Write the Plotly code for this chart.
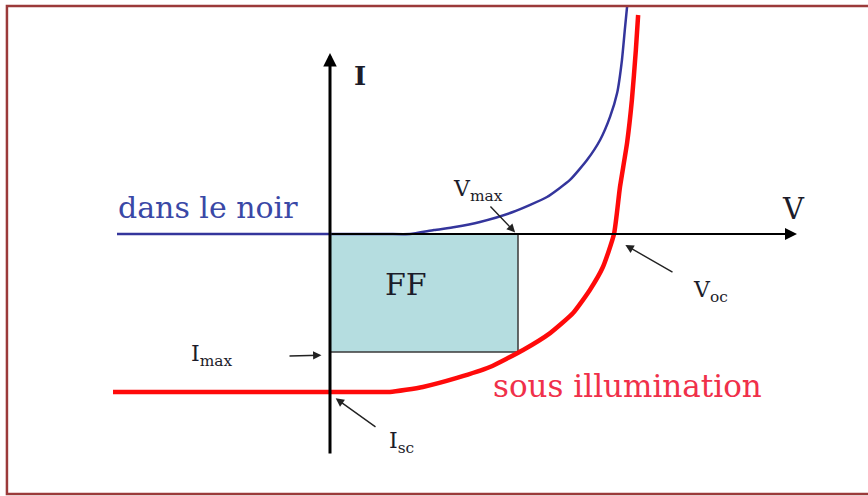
import plotly.graph_objects as go

# I-V characteristic of a solar cell (arbitrary units: Voc = 1, Isc = -1)
v_dark = [-0.75, 0.0, 0.20, 0.282, 0.366, 0.440, 0.528, 0.644, 0.764, 0.845, 0.905,
          0.951, 0.986, 1.011, 1.028, 1.039, 1.046]
i_dark = [0.0, 0.0, 0.0, 0.0, 0.025, 0.044, 0.076, 0.139, 0.234, 0.342, 0.468,
          0.595, 0.741, 0.892, 1.101, 1.310, 1.437]

v_light = [-0.764, 0.0, 0.141, 0.211, 0.327, 0.447, 0.563, 0.680, 0.775, 0.856, 0.915,
           0.961, 1.000, 1.021, 1.046, 1.063, 1.077, 1.085]
i_light = [-1.0, -1.0, -1.0, -1.0, -0.968, -0.911, -0.842, -0.734, -0.627, -0.500, -0.354,
           -0.209, 0.0, 0.297, 0.576, 0.848, 1.165, 1.386]

v_max = 0.662
i_max = -0.747
v_oc = 1.0
i_sc = -1.0

# pixel -> data helpers (only used to place labels and arrows)
def xv(px):
    return (px - 330) / 284.0

def yi(py):
    return (234 - py) / 158.0

fig = go.Figure()

# FF rectangle
fig.add_trace(go.Scatter(
    x=[0, v_max, v_max, 0, 0], y=[0, 0, i_max, i_max, 0],
    mode='lines', fill='toself', fillcolor='#b5dde0',
    line=dict(color='#3a3a3a', width=1.5), hoverinfo='skip'))

fig.add_trace(go.Scatter(
    x=v_dark, y=i_dark, mode='lines', line=dict(color='#34359c', width=2.5, shape='spline', smoothing=0.5),
    hoverinfo='skip'))
fig.add_trace(go.Scatter(
    x=v_light, y=i_light, mode='lines', line=dict(color='#ff0a0a', width=4.5, shape='spline', smoothing=0.5),
    hoverinfo='skip'))

ann = []


def arrow(x0, y0, x1, y1, width, size, color='black'):
    return dict(x=x1, y=y1, ax=x0, ay=y0, xref='x', yref='y', axref='x', ayref='y',
                text='', showarrow=True, arrowhead=2, arrowsize=size, arrowwidth=width,
                arrowcolor=color)


# axes
ann.append(arrow(0, yi(455), 0, yi(53), 3, 0.9))
ann.append(arrow(0, 0, xv(797), 0, 2, 1.2))

# pointer arrows
ann.append(arrow(xv(489), yi(205), v_max - 0.01, 0.01, 1.4, 1.2, '#222222'))
ann.append(arrow(xv(674), yi(273), v_oc + 0.04, -0.07, 1.4, 1.2, '#222222'))
ann.append(arrow(xv(288), yi(356), -0.03, i_max - 0.02, 1.4, 1.2, '#222222'))
ann.append(arrow(xv(377), yi(428), 0.02, i_sc - 0.04, 1.4, 1.2, '#222222'))

serif = 'DejaVu Serif'


def label(px, py, text, size, color='#1c1c2a'):
    return dict(x=xv(px), y=yi(py), xref='x', yref='y', text=text, showarrow=False,
                xanchor='center', yanchor='middle', font=dict(family=serif, size=size, color=color))


ann.append(label(360, 76, '<b>I</b>', 26))
ann.append(label(793, 209, 'V', 29))
ann.append(label(208, 207, 'dans le noir', 30, '#3a48a6'))
ann.append(label(627, 386, 'sous illumination', 31, '#f0304a'))
ann.append(label(406, 284, 'FF', 30))
ann.append(label(478, 190, 'V<sub>max</sub>', 22))
ann.append(label(710, 291, 'V<sub>oc</sub>', 22))
ann.append(label(211, 355, 'I<sub>max</sub>', 22))
ann.append(label(401, 442, 'I<sub>sc</sub>', 22))

fig.update_layout(
    width=868, height=496, autosize=False,
    margin=dict(l=0, r=0, t=0, b=0),
    paper_bgcolor='white', plot_bgcolor='white',
    showlegend=False,
    annotations=ann,
    shapes=[dict(type='rect', xref='paper', yref='paper', x0=0.008, x1=1.02, y0=0.004, y1=0.988,
                 line=dict(color='#9b3a3a', width=2.5))],
    xaxis=dict(range=[xv(0), xv(868)], visible=False, fixedrange=True),
    yaxis=dict(range=[yi(496), yi(0)], visible=False, fixedrange=True),
)

fig.write_html("out.html", config={'displayModeBar': False},
               post_script="document.body.style.margin='0px';")
